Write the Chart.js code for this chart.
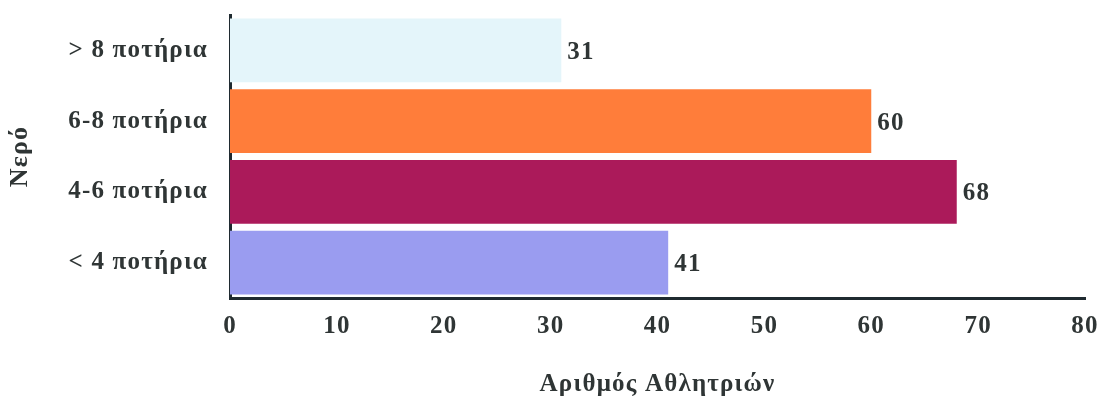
<!DOCTYPE html>
<html>
<head>
<meta charset="utf-8">
<script src="https://cdn.jsdelivr.net/npm/chart.js@4.4.1/dist/chart.umd.min.js"></script>
<style>
  html, body { margin: 0; padding: 0; background: #fff; }
  #wrap { width: 1102px; height: 406px; }
</style>
</head>
<body>
<div id="wrap"><canvas id="c" width="1102" height="406"></canvas></div>
<script>
const categories = ['> 8 ποτήρια', '6-8 ποτήρια', '4-6 ποτήρια', '< 4 ποτήρια'];
const values = [31, 60, 68, 41];
const barColors = ['#e4f5fa', '#ff7d3a', '#ab1a5a', '#9a9cf0'];
const xTicks = [0, 10, 20, 30, 40, 50, 60, 70, 80];

const FONT = "'Liberation Serif', 'Times New Roman', serif";
const TEXT = '#2f3535';
const SPACING = '1.2px';

// the scanned original has rather loose lettering
const spacing = {
    id: 'spacing',
    beforeLayout(chart) { chart.ctx.letterSpacing = SPACING; },
    beforeDraw(chart) { chart.ctx.letterSpacing = SPACING; }
};

// value written just past the end of each bar
const valueLabels = {
    id: 'valueLabels',
    afterDatasetsDraw(chart) {
        const ctx = chart.ctx;
        const meta = chart.getDatasetMeta(0);
        ctx.save();
        ctx.font = `bold 25px ${FONT}`;
        ctx.fillStyle = TEXT;
        ctx.textAlign = 'left';
        ctx.textBaseline = 'middle';
        meta.data.forEach((bar, i) => {
            ctx.fillText(String(values[i]), bar.x + 6, bar.y + 2);
        });
        ctx.restore();
    }
};

new Chart(document.getElementById('c'), {
    type: 'bar',
    data: {
        labels: categories,
        datasets: [{
            data: values,
            backgroundColor: barColors,
            borderWidth: 0,
            barPercentage: 0.9,
            categoryPercentage: 1.0
        }]
    },
    options: {
        indexAxis: 'y',
        responsive: false,
        animation: false,
        layout: { padding: { top: 15, right: 17, left: 0, bottom: 0 } },
        plugins: { legend: { display: false }, tooltip: { enabled: false } },
        scales: {
            x: {
                min: 0, max: 80,
                afterBuildTicks: axis => { axis.ticks = xTicks.map(v => ({ value: v })); },
                afterFit: axis => { axis.height = 108; axis.paddingLeft = 0; axis.paddingRight = 0; },
                grid: { display: false, drawTicks: false },
                border: { display: true, color: '#1f2a30', width: 3 },
                ticks: { color: TEXT, padding: 14, font: { family: FONT, size: 25, weight: 'bold' } },
                title: {
                    display: true, text: 'Αριθμός Αθλητριών', color: TEXT,
                    padding: { top: 7, bottom: 6 },
                    font: { family: FONT, size: 25, weight: 'bold' }
                }
            },
            y: {
                afterFit: axis => { axis.width = 230; axis.paddingTop = 0; axis.paddingBottom = 0; },
                grid: { display: false, drawTicks: false },
                border: { display: true, color: '#1f2a30', width: 3 },
                ticks: { color: TEXT, padding: 22, font: { family: FONT, size: 25, weight: 'bold' } },
                title: {
                    display: true, text: 'Νερό', color: TEXT,
                    padding: { top: 5, bottom: 0 },
                    font: { family: FONT, size: 26, weight: 'bold' }
                }
            }
        }
    },
    plugins: [spacing, valueLabels]
});
</script>
</body>
</html>
